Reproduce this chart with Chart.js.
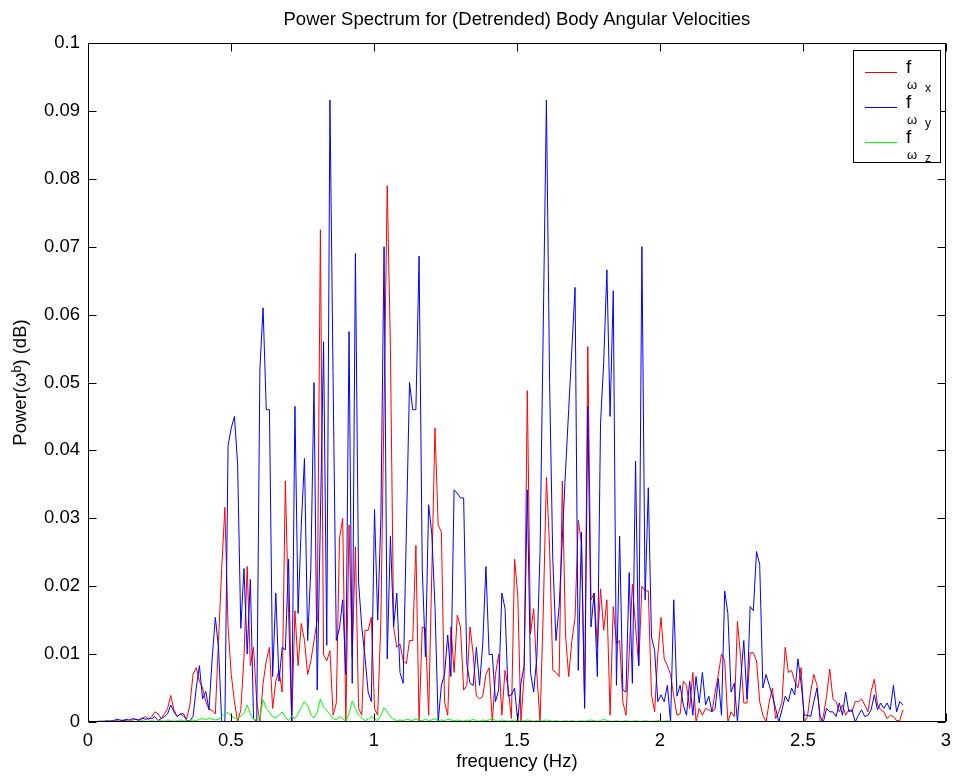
<!DOCTYPE html>
<html>
<head>
<meta charset="utf-8">
<title>Power Spectrum</title>
<script src="https://cdn.jsdelivr.net/npm/chart.js@4.4.1/dist/chart.umd.min.js"></script>
<style>
  html,body{margin:0;padding:0;background:#fff;}
  #wrap{width:959px;height:779px;}
</style>
</head>
<body>
<div id="wrap"><canvas id="psd" width="959" height="779"></canvas></div>
<script>
// Power spectrum of detrended body angular velocities: x (red), y (blue), z (green).
var TITLE = "Power Spectrum for (Detrended) Body Angular Velocities";
var X_LABEL = "frequency (Hz)";
var Y_LABEL = "Power(\u03c9\u1d47) (dB)";

// 257 bins from 0 up to the 2.85 Hz Nyquist frequency
var FREQ_STEP = 2.85 / 256;

var X_TICKS = [0, 0.5, 1, 1.5, 2, 2.5, 3];
var X_TICK_LABELS = ["0", "0.5", "1", "1.5", "2", "2.5", "3"];
var Y_TICKS = [0, 0.01, 0.02, 0.03, 0.04, 0.05, 0.06, 0.07, 0.08, 0.09, 0.1];
var Y_TICK_LABELS = ["0", "0.01", "0.02", "0.03", "0.04", "0.05", "0.06", "0.07", "0.08", "0.09", "0.1"];

var POWER_X = [
  0,0,0.0001,0,0.0001,0.0001,0,0.0002,0.0001,0.0002,0.0001,0.0003,0.0002,0.0001,0.0003,0.0004,0.0002,0.0005,0.0008,0.0004,
  0.0008,0.0015,0.0012,0.0005,0.0012,0.002,0.0039,0.0018,0.0008,0.0012,
  0.0008,0.0005,0.0025,0.007,0.008,0.006,0.005,0.003,0.0019,0.0017,
  0.0012,0.012,0.0226,0.0316,0.014,0.007,0.003,0,0.0018,0.0096,
  0.0229,0.0083,0.011,0.003,0,0.0057,0.009,0.011,0.002,0.006,
  0.0076,0.0044,0.0355,0.016,0,0.0164,0.0083,0.0145,0.012,0.007,
  0.009,0.012,0.015,0.0725,0.0099,0.009,0.0105,0.001,0.0028,0.027,
  0.030,0,0.029,0.0096,0.0258,0.002,0.001,0.0135,0.0135,0.0154,
  0.002,0.001,0.015,0.047,0.079,0.055,0.014,0.011,0.0115,0.009,
  0.0086,0.012,0.012,0.026,0,0.014,0.0138,0.001,0.022,0.0433,
  0.029,0.028,0.003,0.001,0.014,0.0073,0.0157,0.014,0.0047,0.0054,
  0.014,0.010,0.0038,0.0034,0.0038,0.007,0.008,0,0.007,0.010,
  0.001,0.0076,0.005,0.0005,0.024,0.0187,0,0.007,0.0488,0.013,
  0.0167,0.007,0,0.016,0.036,0.0258,0.0076,0.0073,0.0067,0.0355,
  0.0128,0.0067,0.012,0.0154,0.0297,0.0264,0.0025,0.0553,0.018,0.019,
  0.011,0.0196,0.0135,0.018,0.001,0.017,0.0115,0.012,0.003,0.001,
  0.010,0.0203,0.014,0.0083,0.020,0.0193,0.0193,0.004,0.0015,0.010,
  0.0154,0.0093,0.0083,0.007,0.0038,0.001,0.0012,0.006,0.0054,0.002,
  0.0073,0,0.002,0.001,0.002,0.0018,0.0015,0.0044,0.007,0.010,
  0.009,0,0.0015,0.0008,0.0148,0.0096,0.0028,0.0028,0.0102,0.0102,
  0.009,0.003,0.001,0,0.003,0.005,0.0005,0.0015,0.003,0.011,
  0.0073,0.0076,0.006,0.005,0.008,0,0.0008,0.0044,0.007,0.0054,
  0,0.0008,0.0038,0.0078,0.0034,0.003,0.0015,0.0025,0.001,0.0018,
  0.0015,0.003,0.003,0.0034,0.0025,0.0015,0.0045,0.0063,0.0025,0.0018,
  0.0015,0.0005,0.001,0.0008,0.0002,0.0002,0.0018
];

var POWER_Y = [
  0,0,0,0.0001,0.0001,0.0001,0.0002,0.0001,0.0002,0.0004,0.0003,0.0002,0.0004,0.0003,0.0005,0.0004,0.0003,0.0006,0.0004,0.0005,
  0.0005,0.0008,0.0002,0.0005,0.0008,0.0012,0.0025,0.0015,0.0008,0.0012,
  0.0012,0.0002,0.0002,0.0008,0.005,0.0083,0.0034,0.0045,0.0018,0.0093,
  0.0154,0.011,0,0,0.0407,0.0433,0.045,0.038,0.0138,0.0226,
  0.010,0.021,0.0005,0,0.052,0.061,0.046,0.046,0.0067,0.019,
  0.006,0.011,0.0106,0.024,0,0.0465,0.016,0.029,0.0388,0.012,
  0.0226,0.050,0.0047,0.030,0.056,0.0113,0.0916,0.05,0.012,0.0138,
  0.018,0.007,0.0575,0.0057,0.069,0.0206,0.014,0.0096,0.0044,0.003,
  0.0313,0.015,0.030,0.070,0.0093,0.0274,0.014,0.019,0.0073,0.0057,
  0.028,0.050,0.046,0.046,0.0686,0.0226,0.0096,0.032,0.0277,0.017,
  0,0.0054,0.007,0.0128,0.0067,0.0342,0.0337,0.033,0.033,0.0085,
  0.0057,0.0054,0.011,0.0054,0.0115,0.0229,0.0099,0.010,0.003,0.0047,
  0.019,0.0167,0.0038,0.004,0.005,0,0.0057,0.0083,0.0342,0.0073,
  0.0044,0.0096,0.025,0.058,0.0916,0.05,0.024,0.012,0.017,0.027,
  0.037,0.046,0.055,0.064,0.0076,0.028,0.002,0.0465,0.014,0.019,
  0.0067,0.044,0.053,0.0666,0.045,0.0635,0.0054,0.0274,0.0047,0.0044,
  0.022,0.0057,0.0384,0.0083,0.070,0.018,0.0345,0.0125,0.0105,0.003,
  0.004,0.003,0.0054,0,0.018,0.0038,0.0054,0.0025,0.001,0.006,
  0.001,0.0067,0.0028,0.0073,0.0025,0.0038,0.0015,0.002,0.0064,0.001,
  0.0193,0.016,0.0044,0.0057,0,0.006,0.012,0.0034,0.017,0.0164,
  0.0251,0.0232,0.005,0.007,0.0054,0.0038,0.002,0,0.0018,0.0038,
  0.003,0.005,0.004,0.0093,0.0057,0.001,0.001,0.0008,0.003,0.005,
  0.0008,0,0.002,0.0015,0.0015,0.0008,0.0028,0.001,0.0044,0.0015,
  0.0018,0,0.001,0.0018,0.0008,0.001,0.0018,0.004,0.0018,0.0028,
  0.002,0.0028,0.0018,0.0054,0.0015,0.003,0.0025
];

var POWER_Z = [
  0,0.0001,0,0.0001,0.0001,0,0.0001,0.0001,0,0.0001,0.0001,0,0.0001,0.0001,0.0001,0,0.0001,0.0002,0.0001,0.0001,
  0.0002,0.0001,0.0001,0.0002,0.0001,0.0003,0.0002,0.0001,0.0002,0.0003,
  0.0002,0.0001,0.0002,0.0003,0.0002,0.0004,0.0005,0.0003,0.0006,0.0004,
  0.0003,0.0004,0.0008,0.0012,0.0014,0.0009,0.0006,0.0005,0.0008,0.0013,
  0.0025,0.0012,0.0004,0.0003,0.0006,0.0033,0.0020,0.0014,0.0008,0.0006,
  0.0010,0.0015,0.0007,0.0002,0.0009,0.0005,0.0012,0.0022,0.0030,0.0024,
  0.0011,0.0006,0.0014,0.0034,0.0022,0.0017,0.0011,0.0005,0.0003,0.0008,
  0.0005,0.0001,0.0012,0.0031,0.0020,0.0010,0.0006,0.0002,0.0004,0.0008,
  0.0005,0.0002,0.0010,0.0021,0.0015,0.0008,0.0004,0.0002,0.0003,0.0002,
  0.0004,0.0003,0.0002,0.0005,0.0003,0.0002,0.0004,0.0002,0.0003,0.0005,
  0.0002,0.0003,0.0002,0.0004,0.0003,0.0002,0.0003,0.0002,0.0001,0.0003,
  0.0002,0.0004,0.0002,0.0001,0.0003,0.0002,0.0003,0.0005,0.0002,0.0001,
  0.0003,0.0002,0.0001,0.0002,0.0003,0.0002,0.0001,0.0002,0.0003,0.0002,
  0.0001,0.0002,0.0001,0.0002,0.0003,0.0002,0.0001,0.0002,0.0001,0.0001,
  0.0002,0.0001,0.0002,0.0001,0.0001,0.0002,0.0001,0.0002,0.0003,0.0002,
  0.0001,0.0002,0.0004,0.0002,0.0001,0.0001,0.0002,0.0001,0.0001,0.0002,
  0.0001,0.0001,0.0002,0.0001,0.0001,0.0002,0.0001,0.0001,0.0001,0.0002,
  0.0001,0.0001,0.0002,0.0001,0.0001,0,0.0001,0.0001,0,0.0001,
  0,0.0001,0,0,0.0001,0,0,0.0001,0,0,
  0,0.0001,0,0,0,0.0001,0,0,0,0,
  0,0,0.0001,0,0,0,0,0,0.0001,0,
  0,0,0,0,0,0,0,0,0,0,
  0,0,0,0,0,0,0,0,0,0,
  0,0,0,0,0,0,0,0,0,0,
  0,0,0,0,0,0,0
];

var FONT = "'Liberation Sans', Arial, Helvetica, sans-serif";
var FONT_SIZE = 18.5;

function points(vals){
  return vals.map(function(v,i){ return {x:i*FREQ_STEP, y:v}; });
}

// title centred over the plot box, like MATLAB's axes title
var titlePlugin = {
  id: "axesTitle",
  afterDraw: function(chart){
    var a=chart.chartArea, c=chart.ctx;
    c.save();
    c.font=FONT_SIZE+"px "+FONT; c.fillStyle="#000";
    c.textAlign="center"; c.textBaseline="middle";
    c.fillText(TITLE,(a.left+a.right)/2,20);
    c.restore();
  }
};

// MATLAB-style box with inward tick marks on all four sides
var framePlugin = {
  id: "frame",
  afterDraw: function(chart){
    var a=chart.chartArea, c=chart.ctx, xs=chart.scales.x, ys=chart.scales.y, L=8;
    var l=Math.round(a.left)+0.5, r=Math.round(a.right)-0.5, t=Math.round(a.top)+0.5, b=Math.round(a.bottom)-0.5;
    c.save();
    c.strokeStyle="#000"; c.lineWidth=1;
    c.beginPath();
    c.moveTo(l,t); c.lineTo(r,t); c.lineTo(r,b); c.lineTo(l,b); c.closePath();
    X_TICKS.forEach(function(v){
      var x=Math.round(xs.getPixelForValue(v))+0.5;
      c.moveTo(x,b); c.lineTo(x,b-L);
      c.moveTo(x,t); c.lineTo(x,t+L);
    });
    Y_TICKS.forEach(function(v){
      var y=Math.round(ys.getPixelForValue(v))+0.5;
      c.moveTo(l,y); c.lineTo(l+L,y);
      c.moveTo(r,y); c.lineTo(r-L,y);
    });
    c.stroke();
    c.restore();
  }
};

// legend box: f with subscript omega and sub-subscript axis letter
var legendPlugin = {
  id: "subLegend",
  afterDraw: function(chart){
    var c=chart.ctx, bx=853.5, by=50.5, bw=87, bh=112;
    c.save();
    c.fillStyle="#fff"; c.fillRect(bx,by,bw,bh);
    c.strokeStyle="#000"; c.lineWidth=1; c.strokeRect(bx,by,bw,bh);
    c.textBaseline="alphabetic"; c.textAlign="left"; c.fillStyle="#000";
    chart.data.datasets.forEach(function(ds,k){
      var y=72+35*k;
      c.strokeStyle=ds.borderColor; c.lineWidth=1;
      c.beginPath(); c.moveTo(865,y+0.5); c.lineTo(897,y+0.5); c.stroke();
      c.font="19px "+FONT; c.fillText("f",906,y+1);
      c.font="13px "+FONT; c.fillText("\u03c9",907,y+17);
      c.font="12px "+FONT; c.fillText(ds.axisLetter,925,y+20);
    });
    c.restore();
  }
};

var tickFont = {family:FONT, size:FONT_SIZE};

new Chart(document.getElementById("psd").getContext("2d"), {
  type: "line",
  data: {
    datasets: [
      {label:"x", axisLetter:"x", data:points(POWER_X), borderColor:"#ff0000", order:3},
      {label:"y", axisLetter:"y", data:points(POWER_Y), borderColor:"#0000ff", order:2},
      {label:"z", axisLetter:"z", data:points(POWER_Z), borderColor:"#00ff00", order:1}
    ]
  },
  options: {
    responsive:false, animation:false, devicePixelRatio:1,
    layout:{padding:{left:0,right:11,top:43,bottom:0}},
    elements:{line:{borderWidth:1,tension:0,fill:false}, point:{radius:0,hoverRadius:0}},
    plugins:{
      legend:{display:false},
      tooltip:{enabled:false},
      title:{display:false}
    },
    scales:{
      x:{
        type:"linear", min:0, max:3,
        afterBuildTicks:function(s){ s.ticks=X_TICKS.map(function(v){return {value:v};}); },
        afterFit:function(s){ s.height=57; },
        ticks:{callback:function(v,i){return X_TICK_LABELS[i];}, color:"#000", font:tickFont, padding:8, maxRotation:0, autoSkip:false},
        grid:{display:false, drawTicks:false},
        border:{display:false},
        title:{display:true, text:X_LABEL, color:"#000", font:tickFont, padding:{top:0,bottom:6}}
      },
      y:{
        type:"linear", min:0, max:0.1,
        afterBuildTicks:function(s){ s.ticks=Y_TICKS.map(function(v){return {value:v};}); },
        afterFit:function(s){ s.width=88; },
        ticks:{callback:function(v,i){return Y_TICK_LABELS[i];}, color:"#000", font:tickFont, padding:8, autoSkip:false},
        grid:{display:false, drawTicks:false},
        border:{display:false},
        title:{display:true, text:Y_LABEL, color:"#000", font:tickFont, padding:{top:10,bottom:0}}
      }
    }
  },
  plugins:[framePlugin, legendPlugin, titlePlugin]
});
</script>
</body>
</html>
